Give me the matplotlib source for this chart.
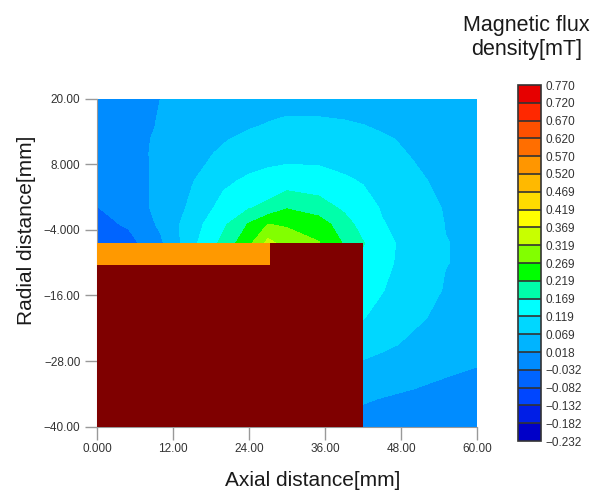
import numpy as np
import matplotlib
matplotlib.use('Agg')
import matplotlib.pyplot as plt

plt.rcParams['font.family'] = ['Liberation Sans', 'DejaVu Sans']

# Grid positions (mm) and field values (mT)
x_mm = [0, 5, 10, 15, 20, 24, 27, 30, 35, 39, 42, 45, 50, 55, 60]
y_mm = [20, 15, 12.5, 10, 5, 0, -3, -6.5, -10, -15, -20, -25, -30, -35, -40]

row_p20 = [-0.012, 0.003, 0.018, 0.028, 0.037, 0.044, 0.049, 0.053, 0.053, 0.051, 0.049, 0.047, 0.043, 0.039, 0.035]
row_p15 = [-0.014, 0.003, 0.021, 0.037, 0.052, 0.065, 0.072, 0.078, 0.077, 0.074, 0.070, 0.064, 0.055, 0.048, 0.042]
row_p12 = [-0.015, 0.0025, 0.025, 0.047, 0.066, 0.080, 0.087, 0.092, 0.091, 0.087, 0.082, 0.074, 0.062, 0.052, 0.045]
row_p10 = [-0.016, 0.002, 0.027, 0.056, 0.075, 0.089, 0.098, 0.104, 0.103, 0.095, 0.088, 0.080, 0.066, 0.055, 0.047]
row_p05 = [-0.024, 0.002, 0.026, 0.066, 0.108, 0.128, 0.137, 0.141, 0.138, 0.126, 0.115, 0.103, 0.076, 0.060, 0.052]
row_000 = [-0.034, -0.006, 0.030, 0.079, 0.138, 0.166, 0.182, 0.216, 0.193, 0.160, 0.140, 0.115, 0.090, 0.066, 0.057]
row_m03 = [-0.047, -0.026, 0.026, 0.097, 0.160, 0.223, 0.270, 0.262, 0.245, 0.190, 0.150, 0.122, 0.097, 0.068, 0.061]
row_m65 = [-0.065, -0.050, 0.008, 0.105, 0.185, 0.257, 0.335, 0.300, 0.272, 0.215, 0.172, 0.135, 0.098, 0.070, 0.063]
row_m10 = [-0.070, -0.055, 0.005, 0.100, 0.180, 0.250, 0.300, 0.290, 0.260, 0.210, 0.150, 0.130, 0.100, 0.070, 0.062]
row_m15 = [-0.070, -0.055, 0.000, 0.090, 0.170, 0.220, 0.260, 0.260, 0.230, 0.190, 0.130, 0.121, 0.092, 0.066, 0.057]
row_m20 = [-0.070, -0.050, 0.000, 0.080, 0.150, 0.190, 0.220, 0.220, 0.200, 0.160, 0.121, 0.105, 0.077, 0.058, 0.050]
row_m25 = [-0.060, -0.045, 0.000, 0.070, 0.120, 0.150, 0.170, 0.170, 0.150, 0.120, 0.090, 0.078, 0.060, 0.045, 0.035]
row_m30 = [-0.050, -0.040, 0.000, 0.050, 0.090, 0.110, 0.120, 0.120, 0.100, 0.080, 0.052, 0.045, 0.034, 0.022, 0.014]
row_m35 = [-0.040, -0.030, 0.000, 0.030, 0.060, 0.070, 0.080, 0.080, 0.060, 0.040, 0.022, 0.016, 0.008, 0.002, -0.004]
row_m40 = [-0.030, -0.020, 0.000, 0.020, 0.040, 0.050, 0.050, 0.050, 0.040, 0.020, 0.000, -0.004, -0.010, -0.014, -0.018]

field = np.array([row_p20, row_p15, row_p12, row_p10, row_p05, row_000, row_m03, row_m65,
                  row_m10, row_m15, row_m20, row_m25, row_m30, row_m35, row_m40])

levels = [-0.232, -0.182, -0.132, -0.082, -0.032, 0.018, 0.069, 0.119, 0.169, 0.219,
          0.269, 0.319, 0.369, 0.419, 0.469, 0.520, 0.570, 0.620, 0.670, 0.720, 0.770]
level_labels = ['\u22120.232', '\u22120.182', '\u22120.132', '\u22120.082', '\u22120.032',
                '0.018', '0.069', '0.119', '0.169', '0.219', '0.269', '0.319', '0.369',
                '0.419', '0.469', '0.520', '0.570', '0.620', '0.670', '0.720', '0.770']
band_colors = ['#0000C8', '#001EE6', '#0046FF', '#0064FF', '#008CFF', '#00B4FF', '#00D7FF',
               '#00FFFF', '#00FFAA', '#00FF00', '#82FF00', '#C8FF00', '#FFFF00', '#FFDC00',
               '#FFB900', '#FF9600', '#FF6E00', '#FF5000', '#FF2800', '#E60000']

x_ticks = [0, 12, 24, 36, 48, 60]
x_tick_labels = ['0.000', '12.00', '24.00', '36.00', '48.00', '60.00']
y_ticks = [20, 8, -4, -16, -28, -40]
y_tick_labels = ['20.00', '8.000', '\u22124.000', '\u221216.00', '\u221228.00', '\u221240.00']

# magnet body and pole strip (mm)
magnet_x = [0, 42]
magnet_y = [-40, -6.5]
pole_x = [0, 27.3]
pole_y = [-10.5, -6.5]

fig = plt.figure(figsize=(6.01, 4.94), dpi=100)
ax = fig.add_axes([0.1614, 0.1362, 0.6323, 0.6644])

cf = ax.contourf(x_mm, y_mm, field, levels=levels, colors=band_colors)
ax.fill_between(magnet_x, magnet_y[0], magnet_y[1], color='#7F0000', lw=0, zorder=3)
ax.fill_between(pole_x, pole_y[0], pole_y[1], color='#FF9900', lw=0, zorder=4)

ax.set_xlim(0, 60)
ax.set_ylim(-40, 20)
ax.set_xticks(x_ticks)
ax.set_xticklabels(x_tick_labels)
ax.set_yticks(y_ticks)
ax.set_yticklabels(y_tick_labels)
ax.tick_params(length=9, width=1, color='#999999', labelsize=8.5, labelcolor='#333333', pad=3)
for s in ['top', 'right']:
    ax.spines[s].set_visible(False)
for s in ['left', 'bottom']:
    ax.spines[s].set_color('#999999')

fig.text(313 / 601, 1 - 480 / 494, 'Axial distance[mm]', ha='center', va='center',
         fontsize=15, color='#1a1a1a')
fig.text(27 / 601, 1 - 230 / 494, 'Radial distance[mm]', ha='center', va='center',
         rotation=90, fontsize=15, color='#1a1a1a')

# colorbar
cax = fig.add_axes([518 / 601, 1 - 441 / 494, 23 / 601, 356 / 494])
cb = fig.colorbar(cf, cax=cax, ticks=levels, spacing='uniform', drawedges=True)
cb.ax.set_yticklabels(level_labels)
cb.ax.tick_params(length=0, labelsize=8.5, labelcolor='#333333', pad=3)
cb.outline.set_edgecolor('#333333')
cb.outline.set_linewidth(1.2)
cb.dividers.set_color('#333333')
cb.dividers.set_linewidth(1.2)

fig.text(526.5 / 601, 1 - 15 / 494, 'Magnetic flux\ndensity[mT]', ha='center', va='top',
         fontsize=15.5, color='#1a1a1a', linespacing=1.2)

fig.savefig('out.png', dpi=100)
